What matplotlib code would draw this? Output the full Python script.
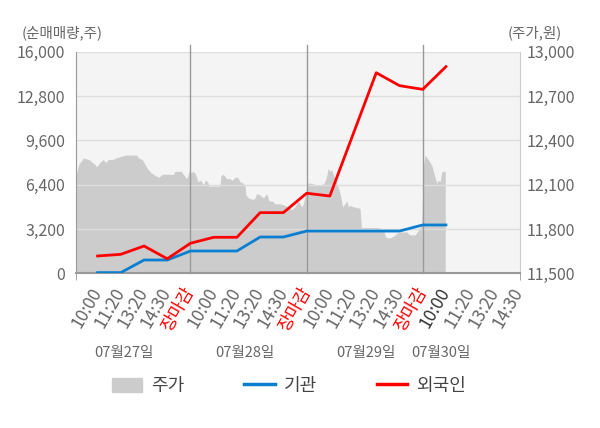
import matplotlib
matplotlib.use('Agg')
import matplotlib.pyplot as plt
import matplotlib.transforms as mtransforms
from matplotlib.patches import Patch
from matplotlib.lines import Line2D

plt.rcParams['font.family'] = ['Noto Sans CJK KR', 'DejaVu Sans']

# x axis: one slot per label, 장마감 closes each day
time_labels = ['10:00', '11:20', '13:20', '14:30', '장마감'] * 3 + ['10:00', '11:20', '13:20', '14:30']
date_labels = ['07월27일', '07월28일', '07월29일', '07월30일']

# net buying (shares), one value per slot
slots = list(range(16))
inst = [50, 50, 960, 960, 1610, 1610, 1610, 2620, 2620, 3050, 3050, 3050, 3050, 3050, 3490, 3490]
foreign = [1250, 1370, 1970, 1050, 2170, 2600, 2600, 4380, 4380, 5780, 5580, 10030, 14480, 13550, 13280, 14920]

# intraday price (won)
price_pos = [-0.93, -0.875, -0.80, -0.70, -0.62, -0.37, -0.23, -0.13, -0.04, 0.10,
             0.24, 0.35, 0.46, 0.63, 0.78, 0.99, 1.20, 1.42, 1.68, 1.78,
             1.92, 2.03, 2.14, 2.31, 2.50, 2.64, 2.79, 3.26, 3.33, 3.60,
             3.69, 3.84, 3.94, 4.01, 4.12, 4.22, 4.32, 4.44, 4.55, 4.65,
             4.74, 4.80, 5.27, 5.31, 5.41, 5.56, 5.70, 5.80, 5.92, 6.03,
             6.13, 6.27, 6.35, 6.39, 6.49, 6.70, 6.78, 6.85, 6.99, 7.14,
             7.28, 7.38, 7.52, 7.64, 7.85, 8.07, 8.21, 8.36, 8.50, 8.64,
             8.79, 8.86, 8.93, 9.03, 9.22, 9.36, 9.65, 9.75, 9.84, 9.93,
             10.01, 10.08, 10.15, 10.27, 10.37, 10.47, 10.55, 10.65, 10.73, 10.80,
             10.87, 11.01, 11.30, 11.36, 11.52, 12.09, 12.23, 12.33, 12.38, 12.48,
             12.59, 12.73, 12.88, 13.02, 13.31, 13.45, 13.67, 13.81, 13.96, 14.03,
             14.10, 14.24, 14.39, 14.46, 14.53, 14.61, 14.67, 14.75, 14.83, 14.97]
price_val = [12150, 12200, 12240, 12260, 12280, 12270, 12250, 12240, 12220, 12250,
             12270, 12250, 12270, 12270, 12280, 12290, 12300, 12300, 12300, 12280,
             12270, 12240, 12210, 12180, 12160, 12150, 12170, 12170, 12190, 12190,
             12170, 12140, 12190, 12180, 12190, 12170, 12120, 12130, 12100, 12130,
             12120, 12090, 12090, 12160, 12170, 12140, 12140, 12130, 12150, 12150,
             12120, 12110, 12090, 12030, 12010, 12000, 12010, 12040, 12030, 12010,
             12040, 11990, 11990, 11970, 11970, 11960, 11950, 11930, 11950, 11990,
             11950, 11970, 12020, 12110, 12110, 12100, 12100, 12110, 12140, 12210,
             12190, 12200, 12170, 12120, 12080, 12020, 11950, 11970, 11990, 11950,
             11960, 11950, 11940, 11810, 11810, 11810, 11800, 11790, 11750, 11740,
             11740, 11750, 11770, 11780, 11780, 11760, 11760, 11790, 11830, 12220,
             12300, 12270, 12230, 12190, 12150, 12110, 12130, 12120, 12190, 12190]

vol_ticks = [0, 3200, 6400, 9600, 12800, 16000]
price_ticks = [11500, 11800, 12100, 12400, 12700, 13000]

fig = plt.figure(figsize=(6, 4.28), dpi=100)
ax = fig.add_axes([76 / 600, 1 - 273.3 / 428, 444 / 600, 221.6 / 428])
ax.set_facecolor('#f4f4f4')
ax.fill_between(price_pos, price_val, 11500, color='#cccccc', lw=0)
ax.set_ylim(11500, 13000)
ax.set_xlim(-0.93, 18.19)
ax.grid(axis='y', color='#dddddd', lw=1)

for d in [4, 9, 14]:
    ax.axvline(d, ymax=1.03, color='#999999', lw=1, clip_on=False)

ax2 = ax.twinx()
ax2.plot(slots, inst, color='#0a7fd0', lw=2)
ax2.plot(slots, foreign, color='#ff0000', lw=2)
ax2.set_ylim(0, 16000)
ax2.set_xlim(-0.93, 18.19)

ax.yaxis.tick_right()
ax2.yaxis.tick_left()
ax.set_yticks(price_ticks)
ax.set_yticklabels([f'{v:,}' for v in price_ticks])
ax2.set_yticks(vol_ticks)
ax2.set_yticklabels([f'{v:,}' for v in vol_ticks])
ax.tick_params(axis='y', length=0, pad=5, labelsize=11.5, labelcolor='#666666')
ax2.tick_params(axis='y', length=0, pad=8, labelsize=11.5, labelcolor='#666666')

for s in ax2.spines.values():
    s.set_visible(False)
ax.spines['top'].set_visible(False)
ax.spines['left'].set_color('#999999')
ax.spines['bottom'].set_color('#999999')
ax.spines['bottom'].set_linewidth(1.5)
ax.spines['right'].set_color('#cccccc')

tick_pos = list(range(15)) + [15, 16.05, 17.1, 18.15]
ax.set_xticks(tick_pos)
ax.set_xticklabels(time_labels, rotation=60, ha='right', va='center', rotation_mode='anchor')
ax.set_xticks([-0.93, 4, 9, 14, 18.19], minor=True)
ax.tick_params(axis='x', which='major', length=0, pad=11, labelsize=12.5, labelcolor='#666666')
ax.tick_params(axis='x', which='minor', length=5, color='#999999')
for i, t in enumerate(ax.get_xticklabels()):
    if time_labels[i] == '장마감':
        t.set_color('#ff0000')
    elif i == 15:
        t.set_color('#333333')

trans = mtransforms.blended_transform_factory(ax.transData, fig.transFigure)
for p, lab in zip([1.14, 6.35, 11.56, 14.79], date_labels):
    ax.text(p, 1 - 353 / 428, lab, transform=trans, ha='center', va='center',
            fontsize=10.5, color='#666666')

fig.text(22 / 600, 1 - 33 / 428, '(순매매량,주)', ha='left', va='center', fontsize=10.5, color='#666666')
fig.text(562 / 600, 1 - 33 / 428, '(주가,원)', ha='right', va='center', fontsize=10.5, color='#666666')

handles = [Patch(color='#cccccc'),
           Line2D([], [], color='#0a7fd0', lw=2.5),
           Line2D([], [], color='#ff0000', lw=2.5)]
fig.legend(handles, ['주가', '기관', '외국인'], loc='center', bbox_to_anchor=(289 / 600, 1 - 386 / 428),
           ncol=3, frameon=False, fontsize=13, handlelength=1.7, handleheight=0.8,
           handletextpad=0.5, columnspacing=3.3, labelcolor='#444444')

fig.savefig('out.png', dpi=100)
